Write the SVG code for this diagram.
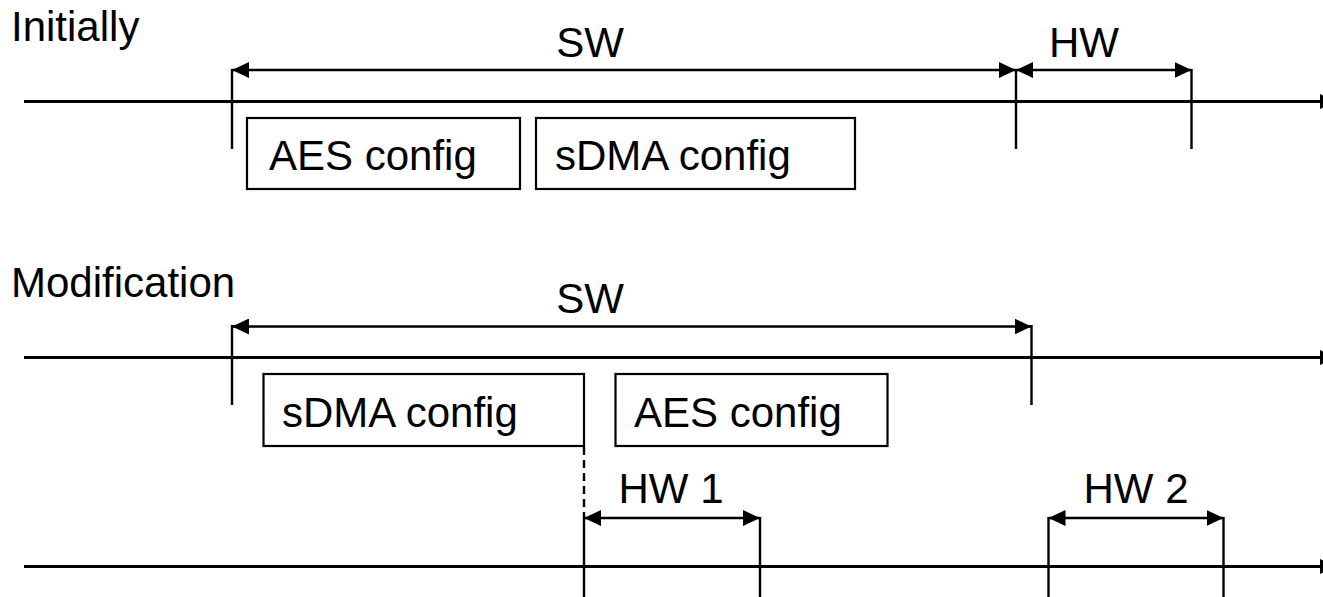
<svg xmlns="http://www.w3.org/2000/svg" width="1323" height="597" viewBox="0 0 1323 597">
  <style>
    text { font-family: "Liberation Sans", Arial, sans-serif; font-size: 42px; fill: #000; }
    .mid { text-anchor: middle; }
    .box { fill: #fff; stroke: #000; stroke-width: 2.2; }
    .axis { stroke: #000; stroke-width: 3; fill: none; }
    .tick { stroke: #000; stroke-width: 2.4; fill: none; }
    .span { stroke: #000; stroke-width: 2.6; fill: none; marker-start: url(#head); marker-end: url(#head); }
    .dash { stroke: #000; stroke-width: 2.4; stroke-dasharray: 8 5; fill: none; }
  </style>
  <defs>
    <marker id="head" viewBox="0 0 17 16" refX="17" refY="8" markerWidth="17" markerHeight="16" markerUnits="userSpaceOnUse" orient="auto-start-reverse">
      <path d="M0,0 L17,8 L0,16 z" fill="#000"/>
    </marker>
  </defs>
  <rect width="1323" height="597" fill="#fff"/>

  <!-- Section titles -->
  <g id="title-initially"><text x="11" y="41">Initially</text></g>
  <g id="title-modification"><text x="11" y="297">Modification</text></g>

  <!-- Time axes, boundary ticks and span arrows -->
  <g id="connectors">
    <line class="axis" x1="24" y1="101.5" x2="1322" y2="101.5"/>
    <line class="axis" x1="24" y1="357.5" x2="1322" y2="357.5"/>
    <line class="axis" x1="24" y1="566.5" x2="1322" y2="566.5"/>
    <polygon points="1320,94 1336,101.5 1320,109" fill="#000"/>
    <polygon points="1320,350 1336,357.5 1320,365" fill="#000"/>
    <polygon points="1320,559 1336,566.5 1320,574" fill="#000"/>

    <!-- first timeline -->
    <line class="tick" x1="232" y1="69" x2="232" y2="149"/>
    <line class="tick" x1="1016" y1="69" x2="1016" y2="149"/>
    <line class="tick" x1="1191.5" y1="69" x2="1191.5" y2="149"/>
    <line class="span" x1="232" y1="70" x2="1016" y2="70"/>
    <line class="span" x1="1016" y1="70" x2="1191.5" y2="70"/>

    <!-- second timeline -->
    <line class="tick" x1="232" y1="325" x2="232" y2="405"/>
    <line class="tick" x1="1031.5" y1="325" x2="1031.5" y2="405"/>
    <line class="span" x1="232" y1="326.5" x2="1031.5" y2="326.5"/>

    <!-- hardware timeline -->
    <line class="dash" x1="584" y1="447" x2="584" y2="518"/>
    <line class="tick" x1="584" y1="517" x2="584" y2="597"/>
    <line class="tick" x1="760" y1="517" x2="760" y2="597"/>
    <line class="tick" x1="1048.5" y1="517" x2="1048.5" y2="597"/>
    <line class="tick" x1="1223.5" y1="517" x2="1223.5" y2="597"/>
    <line class="span" x1="584" y1="518" x2="760" y2="518"/>
    <line class="span" x1="1048.5" y1="518" x2="1223.5" y2="518"/>
  </g>

  <!-- Span labels -->
  <g id="label-sw-1"><text class="mid" x="590" y="57">SW</text></g>
  <g id="label-hw"><text class="mid" x="1084" y="57">HW</text></g>
  <g id="label-sw-2"><text class="mid" x="590" y="313">SW</text></g>
  <g id="label-hw1"><text class="mid" x="671" y="503">HW 1</text></g>
  <g id="label-hw2"><text class="mid" x="1136" y="503">HW 2</text></g>

  <!-- Configuration steps -->
  <g id="aes-config-1">
    <rect class="box" x="247" y="118" width="273" height="71"/>
    <text x="269" y="170">AES config</text>
  </g>
  <g id="sdma-config-1">
    <rect class="box" x="536" y="118" width="319" height="71"/>
    <text x="555" y="170">sDMA config</text>
  </g>
  <g id="sdma-config-2">
    <rect class="box" x="263.5" y="374" width="320.5" height="72"/>
    <text x="282" y="427">sDMA config</text>
  </g>
  <g id="aes-config-2">
    <rect class="box" x="615.5" y="374" width="272" height="72"/>
    <text x="634" y="427">AES config</text>
  </g>
</svg>
